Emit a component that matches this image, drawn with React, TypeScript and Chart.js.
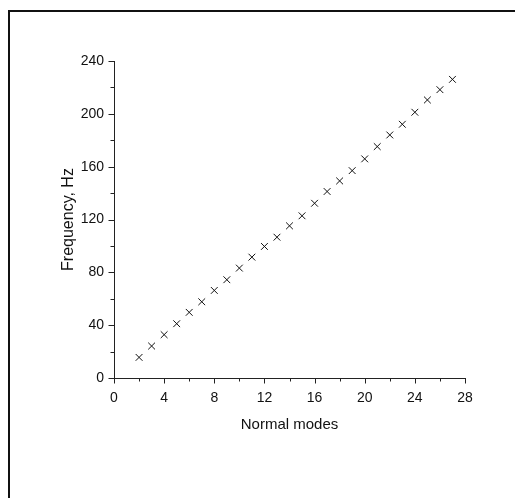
import React, { useEffect, useRef } from "react";
import { Chart, registerables } from "chart.js";

Chart.register(...registerables);

const modes = [2, 3, 4, 5, 6, 7, 8, 9, 10, 11, 12, 13, 14, 15, 16, 17, 18, 19, 20, 21, 22, 23, 24, 25, 26, 27];
const frequencies = [15.6, 24.2, 32.8, 41.1, 49.7, 57.7, 66.3, 74.4, 83.2, 91.5, 99.6, 106.6, 115.2, 122.8, 132.3, 141.2, 149.2, 157, 165.9, 175.2, 184, 192.1, 201.2, 210.5, 218.3, 226.1];
const xTicks = [0, 2, 4, 6, 8, 10, 12, 14, 16, 18, 20, 22, 24, 26, 28];
const yTicks = [0, 20, 40, 60, 80, 100, 120, 140, 160, 180, 200, 220, 240];
const xMajorStep = 4;
const yMajorStep = 40;

const FONT = "'Liberation Sans', Arial, sans-serif";

const tickPlugin = {
  id: "originTicks",
  afterDraw(chart: any) {
    const ctx = chart.ctx;
    const xs = chart.scales.x;
    const ys = chart.scales.y;
    const area = chart.chartArea;
    ctx.save();
    ctx.strokeStyle = "#222";
    ctx.lineWidth = 1;
    ctx.beginPath();
    for (const v of xTicks) {
      const px = Math.round(xs.getPixelForValue(v)) + 0.5;
      const len = v % xMajorStep === 0 ? 5.5 : 3.5;
      ctx.moveTo(px, area.bottom);
      ctx.lineTo(px, area.bottom + len);
    }
    for (const v of yTicks) {
      const py = Math.round(ys.getPixelForValue(v)) + 0.5;
      const len = v % yMajorStep === 0 ? 5.5 : 3.5;
      ctx.moveTo(area.left, py);
      ctx.lineTo(area.left - len, py);
    }
    ctx.stroke();
    ctx.restore();
  },
};

export default function App() {
  const ref = useRef<HTMLCanvasElement>(null);
  useEffect(() => {
    if (!ref.current) return;
    const chart = new Chart(ref.current, {
      type: "scatter",
      data: {
        datasets: [
          {
            data: modes.map((m, i) => ({ x: m, y: frequencies[i] })),
            pointStyle: "crossRot",
            pointRadius: 4.8,
            pointBorderWidth: 1,
            borderColor: "#111",
            backgroundColor: "#111",
            showLine: false,
          },
        ],
      },
      plugins: [tickPlugin],
      options: {
        responsive: false,
        animation: false,
        devicePixelRatio: 1,
        layout: { padding: { left: 0, right: 50, top: 61, bottom: 0 } },
        plugins: { legend: { display: false }, tooltip: { enabled: false } },
        scales: {
          x: {
            type: "linear",
            min: 0,
            max: 28,
            afterFit: (s: any) => {
              s.height = 120;
            },
            ticks: {
              stepSize: xMajorStep,
              color: "#111",
              font: { family: FONT, size: 14 },
              padding: 12,
              maxRotation: 0,
            },
            grid: { display: false, drawTicks: false },
            border: { display: true, color: "#222", width: 1 },
            title: {
              display: true,
              text: "Normal modes",
              color: "#111",
              font: { family: FONT, size: 15 },
              padding: { top: 0, bottom: 64 },
            },
          },
          y: {
            type: "linear",
            min: 0,
            max: 240,
            afterFit: (s: any) => {
              s.width = 114;
            },
            ticks: {
              stepSize: yMajorStep,
              color: "#111",
              font: { family: FONT, size: 14 },
              padding: 10,
            },
            grid: { display: false, drawTicks: false },
            border: { display: true, color: "#222", width: 1 },
            title: {
              display: true,
              text: "Frequency, Hz",
              color: "#111",
              font: { family: FONT, size: 16 },
              padding: { top: 58.5, bottom: 0 },
            },
          },
        },
      },
    });
    return () => chart.destroy();
  }, []);
  return (
    <>
      <canvas
        ref={ref}
        width={515}
        height={498}
        style={{ position: "fixed", left: 0, top: 0, width: 515, height: 498, background: "#fff" }}
      />
      <div
        style={{
          position: "fixed",
          left: 8,
          top: 10,
          width: 600,
          height: 600,
          borderTop: "2px solid #111",
          borderLeft: "2px solid #111",
          pointerEvents: "none",
        }}
      />
    </>
  );
}
